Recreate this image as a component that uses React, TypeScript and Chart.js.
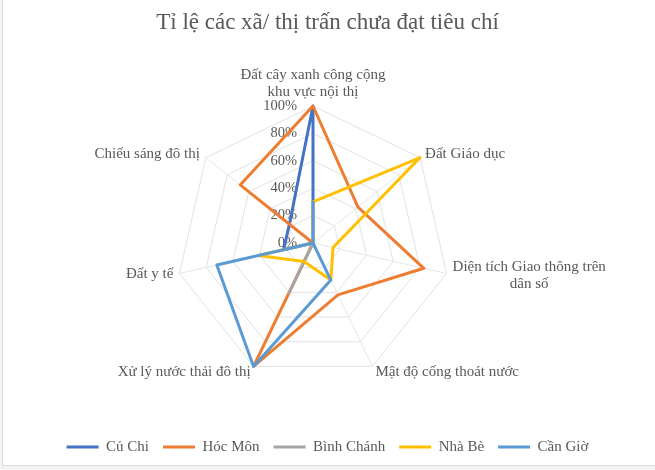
import { useEffect, useRef } from 'react';
import { Chart, registerables } from 'chart.js';

Chart.register(...registerables);

const categories: (string | string[])[] = [
  ['Đất cây xanh công cộng', 'khu vực nội thị'],
  'Đất Giáo dục',
  ['Diện tích Giao thông trên', 'dân số'],
  'Mật độ cống thoát nước',
  'Xử lý nước thải đô thị',
  'Đất y tế',
  'Chiếu sáng đô thị',
];

const cuChi = [100, 0, 0, 0, 0, 22, 22];
const hocMon = [100, 42, 83, 42, 100, 0, 68];
const binhChanh = [0, 0, 0, 0, 40, 0, 0];
const nhaBe = [30, 100, 15, 30, 15, 41, 0];
const canGio = [30, 0, 0, 30, 100, 72, 0];

const seriesNames = ['Củ Chi', 'Hóc Môn', 'Bình Chánh', 'Nhà Bè', 'Cần Giờ'];
const seriesColors = ['#4472C4', '#ED7D31', '#A5A5A5', '#FFC000', '#5B9BD5'];

const TEXT = '#595959';
const FONT = "'Liberation Serif', 'Times New Roman', serif";

// where each category label sits relative to its outer vertex (Excel-like)
const labelPlacement = [
  { side: 'top', dx: 0, dy: -14 },
  { side: 'right', dx: 5, dy: -4 },
  { side: 'right', dx: 6, dy: 2 },
  { side: 'right', dx: 3, dy: 6 },
  { side: 'left', dx: -3, dy: 6 },
  { side: 'left', dx: -6, dy: 1 },
  { side: 'left', dx: -6, dy: -4 },
];

const radarText = {
  id: 'radarText',
  beforeDatasetsDraw(chart: any) {
    const scale = chart.scales.r;
    const ctx = chart.ctx;
    ctx.save();
    ctx.fillStyle = TEXT;
    // percentage ticks left of the vertical axis
    ctx.font = `14.5px ${FONT}`;
    ctx.textAlign = 'right';
    ctx.textBaseline = 'middle';
    scale.ticks.forEach((t: any) => {
      const y = scale.yCenter - scale.getDistanceFromCenterForValue(t.value);
      ctx.fillText(t.value + '%', scale.xCenter - 16, y);
    });
    // category labels
    ctx.font = `15px ${FONT}`;
    const lh = 17;
    categories.forEach((label, i) => {
      const lines = Array.isArray(label) ? label : [label];
      const p = scale.getPointPosition(i, scale.drawingArea);
      const pl = labelPlacement[i];
      const widest = Math.max(...lines.map((l) => ctx.measureText(l).width));
      let cx = p.x + pl.dx;
      if (pl.side === 'right') cx += widest / 2;
      if (pl.side === 'left') cx -= widest / 2;
      ctx.textAlign = 'center';
      lines.forEach((line, k) => {
        let y;
        if (pl.side === 'top') y = p.y + pl.dy - (lines.length - 1 - k) * lh;
        else y = p.y + pl.dy + (k - (lines.length - 1) / 2) * lh;
        ctx.fillText(line, cx, y);
      });
    });
    ctx.restore();
  },
};

export default function App() {
  const canvasRef = useRef<HTMLCanvasElement | null>(null);

  useEffect(() => {
    if (!canvasRef.current) return;
    const allSeries = [cuChi, hocMon, binhChanh, nhaBe, canGio];
    const chart = new Chart(canvasRef.current, {
      type: 'radar',
      data: {
        labels: categories,
        datasets: allSeries.map((values, i) => ({
          label: seriesNames[i],
          data: values,
          borderColor: seriesColors[i],
          backgroundColor: seriesColors[i],
          borderWidth: 3,
          fill: false,
          tension: 0,
          pointRadius: 0,
          borderJoinStyle: 'round' as const,
          borderCapStyle: 'round' as const,
          // later series drawn on top, like Excel
          order: allSeries.length - i,
        })),
      },
      options: {
        responsive: true,
        maintainAspectRatio: false,
        animation: false,
        layout: { padding: { top: 0, bottom: 5.5, left: 0, right: 0 } },
        plugins: {
          title: {
            display: true,
            text: 'Tỉ lệ các xã/ thị trấn chưa đạt tiêu chí',
            color: TEXT,
            font: { family: FONT, size: 23, weight: 'normal' },
            padding: { top: 9, bottom: 69.4 },
          },
          legend: {
            position: 'bottom',
            title: { display: true, text: '', font: { size: 12 }, padding: { top: 31.1, bottom: 0 } },
            labels: {
              usePointStyle: true,
              pointStyle: 'line',
              pointStyleWidth: 32,
              padding: 14,
              color: TEXT,
              font: { family: FONT, size: 15 },
              sort: (a: any, b: any) => a.datasetIndex - b.datasetIndex,
            },
          },
          tooltip: { enabled: false },
        },
        scales: {
          r: {
            min: 0,
            max: 100,
            ticks: { display: false, stepSize: 20 },
            pointLabels: { display: false },
            grid: { circular: false, color: '#e2e2e2', lineWidth: 1 },
            angleLines: { display: true, color: '#e6e6e6', lineWidth: 1 },
            afterFit: (scale: any) => {
              scale.xCenter -= 14;
            },
          },
        },
      },
      plugins: [radarText],
    });
    return () => chart.destroy();
  }, []);

  return (
    <div style={{ position: 'fixed', left: 0, top: 0, width: 655, height: 470, background: '#f4f4f4', overflow: 'hidden' }}>
      <div
        style={{
          position: 'absolute', left: 2, top: -1, width: 660, height: 467,
          background: '#fff', border: '1px solid #dcdcdc', boxSizing: 'border-box',
        }}
      />
      <div style={{ position: 'absolute', left: 0, top: 0, width: 655, height: 470 }}>
        <canvas ref={canvasRef} />
      </div>
    </div>
  );
}
